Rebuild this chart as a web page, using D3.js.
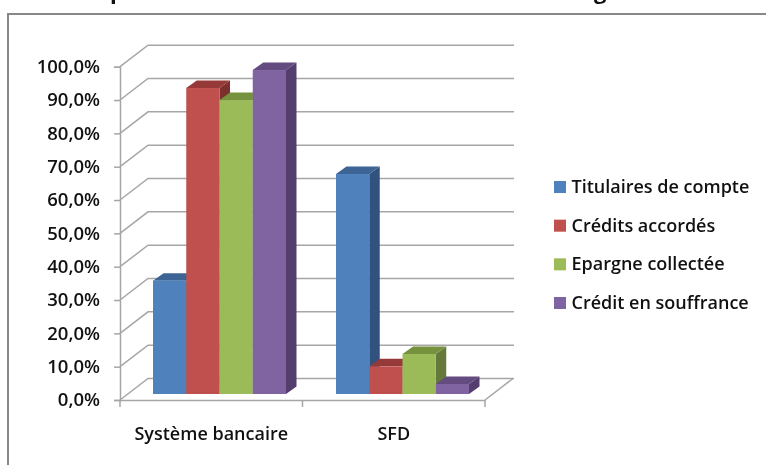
<!DOCTYPE html>
<html>
<head>
<meta charset="utf-8">
<script src="https://cdn.jsdelivr.net/npm/d3@7"></script>
<style>
  html, body { margin: 0; padding: 0; background: #fff; }
  svg { display: block; filter: blur(0.35px); }
  text { font-family: "Open Sans", sans-serif; font-weight: 600; fill: #111; }
</style>
</head>
<body>
<div class="chart"></div>
<script>
// values
var categories = ["Système bancaire", "SFD"];
var seriesNames = ["Titulaires de compte", "Crédits accordés", "Epargne collectée", "Crédit en souffrance"];
var titulaires = [34, 66];
var credits = [91.8, 8.3];
var epargne = [88.2, 12];
var souffrance = [97.2, 3];
var yTicks = [0, 10, 20, 30, 40, 50, 60, 70, 80, 90, 100];

var allSeries = [titulaires, credits, epargne, souffrance];
var front = ["#4f81bd", "#c0504d", "#9bbb59", "#8064a2"];
var top_ = ["#3c6595", "#953a38", "#76923f", "#644c80"];
var side = ["#30527c", "#7c2f2d", "#65793a", "#533e6d"];

var svgWidth = 766;
var svgHeight = 465;

var svg = d3.select(".chart").append("svg")
  .attr("width", svgWidth)
  .attr("height", svgHeight);

// title is cut by the top of the picture, only these descenders show
svg.append("text").attr("x", 110).attr("y", -1).attr("font-size", 22).style("font-weight", 700).text("p");
svg.append("text").attr("x", 594).attr("y", -1).attr("font-size", 22).style("font-weight", 700).text("g");

// chart frame, only top and left edges are in the picture
svg.append("path")
  .attr("d", "M8,465V14H766")
  .attr("fill", "none")
  .attr("stroke", "#888")
  .attr("stroke-width", 2);

var x0 = d3.scaleBand().domain(categories).range([120, 485]);
var y = d3.scaleLinear().domain([0, 100]).range([400, 66.7]);

// offset of the back wall and of the bars depth
var wall = { dx: 28, dy: -21.5 };
var barBase = { dx: 0, dy: -6 };
var depth = { dx: 10.5, dy: -7.5 };

var grid = svg.append("g").attr("fill", "none").attr("stroke", "#a6a6a6").attr("stroke-width", 1.5);

yTicks.forEach(function(t) {
  grid.append("path")
    .attr("d", d3.line()([
      [120, y(t)],
      [120 + wall.dx, y(t) + wall.dy],
      [485 + wall.dx + 1, y(t) + wall.dy]
    ]));
});

// right edge of the floor
grid.append("path")
  .attr("d", d3.line()([[485, y(0)], [485 + wall.dx, y(0) + wall.dy]]));

// y axis and x axis
var locale = d3.formatLocale({ decimal: ",", thousands: " ", grouping: [3], currency: ["", ""] });
var fmt = locale.format(".1f");

var yAxis = d3.axisLeft(y)
  .tickValues(yTicks)
  .tickSize(6)
  .tickPadding(14)
  .tickFormat(function(d) { return fmt(d) + "%"; });

var yG = svg.append("g").attr("transform", "translate(120,0)").call(yAxis);
yG.selectAll("text").attr("font-size", 18.5).style("font-family", "'Open Sans', sans-serif");

var xAxis = d3.axisBottom(x0).tickSize(0).tickPadding(27);
var xG = svg.append("g").attr("transform", "translate(0,400)").call(xAxis);
xG.selectAll("text").attr("font-size", 18).style("font-family", "'Open Sans', sans-serif");

// category ticks sit between the groups, d3 axis puts them on the band centers
x0.range().concat([(x0.range()[0] + x0.range()[1]) / 2]).forEach(function(px) {
  svg.append("line")
    .attr("x1", px).attr("x2", px)
    .attr("y1", 400).attr("y2", 407)
    .attr("stroke", "#a6a6a6").attr("stroke-width", 1.5);
});

svg.selectAll(".domain, .tick line").attr("stroke", "#a6a6a6").attr("stroke-width", 1.5);

// bars
var x1 = d3.scaleBand().domain(d3.range(seriesNames.length)).range([33, 166]);
var baseY = y(0) + barBase.dy;
var yBar = function(v) { return baseY - (y(0) - y(v)); };

var bars = svg.append("g");

categories.forEach(function(cat, c) {
  allSeries.forEach(function(vals, s) {
    var xl = x0(cat) + x1(s) + (c == 1 ? 0.5 : 0);
    var xr = xl + x1.bandwidth();
    var yt = yBar(vals[c]);
    // side face
    bars.append("path")
      .attr("fill", side[s])
      .attr("d", d3.line()([
        [xr, yt], [xr + depth.dx, yt + depth.dy],
        [xr + depth.dx, baseY + depth.dy], [xr, baseY]
      ]));
    // top face
    bars.append("path")
      .attr("fill", top_[s])
      .attr("d", d3.line()([
        [xl, yt], [xl + depth.dx, yt + depth.dy],
        [xr + depth.dx, yt + depth.dy], [xr, yt]
      ]));
    // front face
    bars.append("rect")
      .attr("fill", front[s])
      .attr("x", xl).attr("y", yt)
      .attr("width", x1.bandwidth())
      .attr("height", baseY - yt);
  });
});

// legend
var legendY = d3.scalePoint().domain(seriesNames).range([187, 303]);
var legend = svg.append("g");
seriesNames.forEach(function(name, i) {
  legend.append("rect")
    .attr("x", 554).attr("y", legendY(name) - 6)
    .attr("width", 12).attr("height", 12)
    .attr("fill", front[i]);
  legend.append("text")
    .attr("x", 571.5).attr("y", legendY(name) + 6)
    .attr("font-size", 18)
    .text(name);
});
</script>
</body>
</html>
